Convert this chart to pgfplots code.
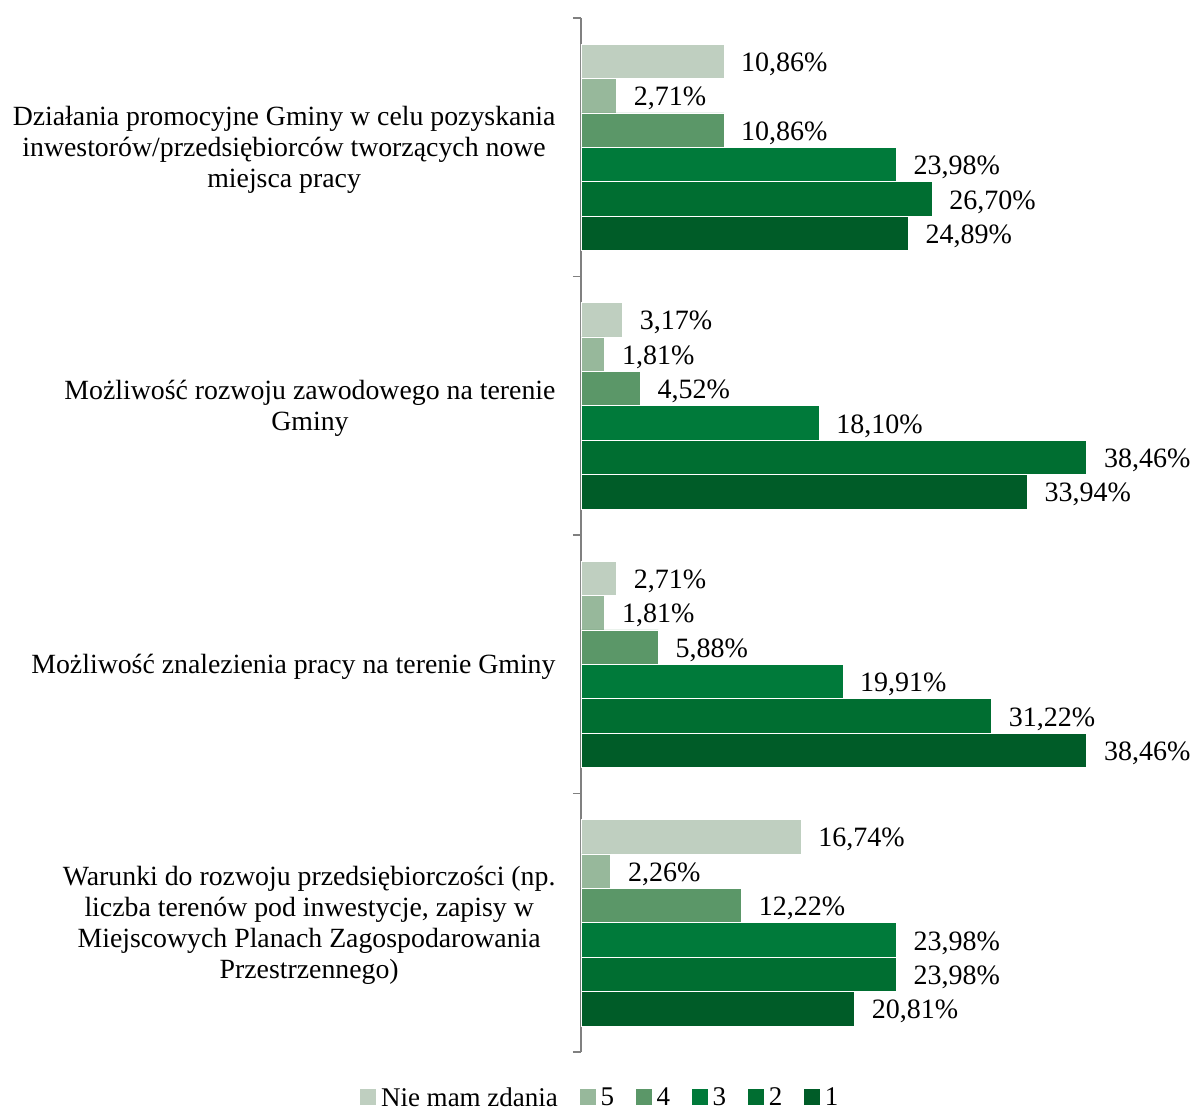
\documentclass[border=0pt]{standalone}
\usepackage{pgfplots}
\pgfplotsset{compat=1.18}
\usepackage{fontspec}
\setmainfont{Liberation Serif}
\definecolor{c0}{HTML}{BFCFC0}
\definecolor{c5}{HTML}{97B89B}
\definecolor{c4}{HTML}{5B9768}
\definecolor{c3}{HTML}{007A3A}
\definecolor{c2}{HTML}{006E31}
\definecolor{c1}{HTML}{005C28}
\begin{document}
\begin{tikzpicture}
\begin{axis}[
 scale only axis, width=526pt, height=1034pt,
 xbar=0pt, bar width=34.4pt,
 xmin=0, xmax=40,
 ymin=-0.5, ymax=3.5, y dir=reverse,
 axis x line=none,
 axis y line*=left,
 y axis line style={-, draw=gray, line width=1.2pt},
 ytick={0,1,2,3},
 yticklabels={{Działania promocyjne Gminy w celu pozyskania\\inwestorów/przedsiębiorców tworzących nowe\\miejsca pracy},
   {Możliwość rozwoju zawodowego na terenie\\Gminy},
   {Możliwość znalezienia pracy na terenie Gminy},
   {Warunki do rozwoju przedsiębiorczości (np.\\liczba terenów pod inwestycje, zapisy w\\Miejscowych Planach Zagospodarowania\\Przestrzennego)}},
 major tick length=0pt,
 minor ytick={-0.5,0.5,1.5,2.5,3.5},
 minor tick length=8pt,
 tick align=outside,
 tick style={draw=gray, line width=1.2pt},
 yticklabel style={font=\fontsize{27.8}{31}\selectfont, align=center, anchor=east, xshift=-22pt, yshift=-3pt},
 nodes near coords={\pgfmathprintnumber[fixed,precision=2,fixed zerofill,use comma,assume math mode=true]{\pgfplotspointmeta}\%},
 every node near coord/.append style={anchor=west, font=\fontsize{28}{31}\selectfont, inner xsep=0pt, xshift=17pt, yshift=-3pt, black},
 legend style={at={(axis description cs:0.036,-0.044)}, anchor=center, draw=none, legend columns=-1, font=\fontsize{27}{28}\selectfont, /tikz/every even column/.append style={column sep=19pt}, /tikz/every odd column/.append style={column sep=2pt}},
 legend image code/.code={\fill[#1] (0pt,-8pt) rectangle (17pt,9pt);},
 clip=false,
]
\coordinate (tl) at (axis description cs:0,1);
\addplot[fill=c0, draw=white, line width=0.6pt, bar shift=86pt] coordinates {(10.86,0) (3.17,1) (2.71,2) (16.74,3)};
\addplot[fill=c5, draw=white, line width=0.6pt, bar shift=51.6pt] coordinates {(2.71,0) (1.81,1) (1.81,2) (2.26,3)};
\addplot[fill=c4, draw=white, line width=0.6pt, bar shift=17.2pt] coordinates {(10.86,0) (4.52,1) (5.88,2) (12.22,3)};
\addplot[fill=c3, draw=white, line width=0.6pt, bar shift=-17.2pt] coordinates {(23.98,0) (18.10,1) (19.91,2) (23.98,3)};
\addplot[fill=c2, draw=white, line width=0.6pt, bar shift=-51.6pt] coordinates {(26.70,0) (38.46,1) (31.22,2) (23.98,3)};
\addplot[fill=c1, draw=white, line width=0.6pt, bar shift=-86pt] coordinates {(24.89,0) (33.94,1) (38.46,2) (20.81,3)};
\legend{Nie mam zdania,5,4,3,2,1}
\end{axis}
\pgfresetboundingbox
\path (tl) ++(-581pt,18pt) rectangle ++(1194pt,-1113pt);
\end{tikzpicture}
\end{document}
